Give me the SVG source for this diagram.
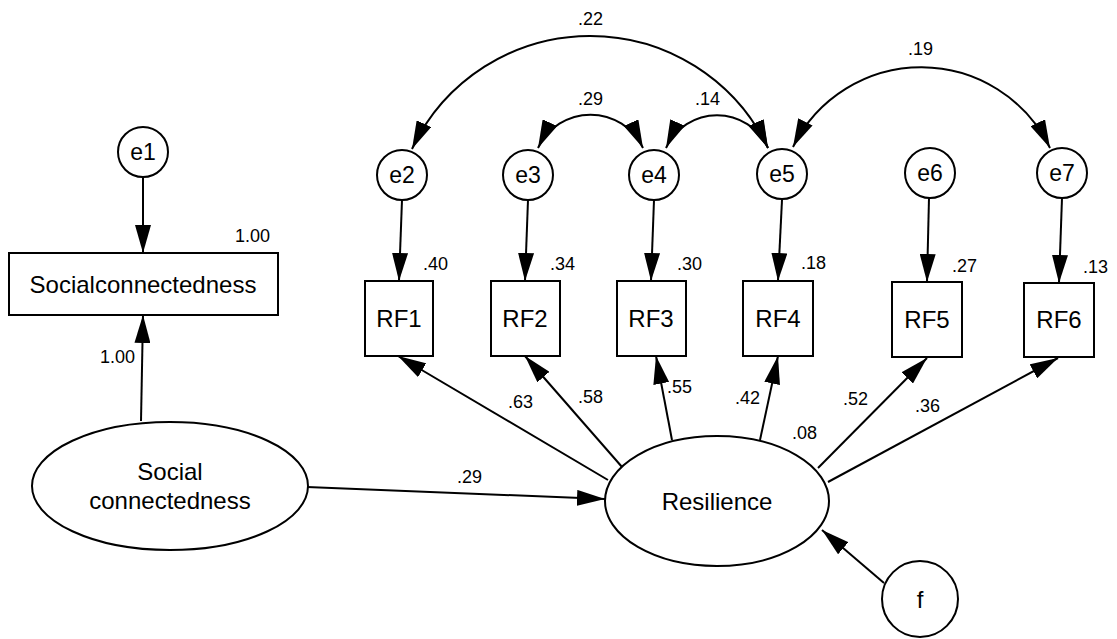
<svg xmlns="http://www.w3.org/2000/svg" width="1117" height="639" viewBox="0 0 1117 639">
<style>
.shape{fill:#fff;stroke:#000;stroke-width:2}
.ln{fill:none;stroke:#000;stroke-width:2}
.arr{marker-end:url(#ah)}
.dbl{marker-start:url(#ah);marker-end:url(#ah)}
.big{font-family:"Liberation Sans",Arial,sans-serif;font-size:24px;fill:#000;text-anchor:middle}
.num{font-family:"Liberation Sans",Arial,sans-serif;font-size:18px;fill:#000}
</style>
<defs>
<marker id="ah" markerUnits="userSpaceOnUse" markerWidth="28" markerHeight="16" refX="28" refY="8" orient="auto-start-reverse" viewBox="0 0 28 16">
<path d="M0,0 L28,8 L0,16 z" fill="#000"/>
</marker>
</defs>
<rect width="1117" height="639" fill="#fff"/>

<g id="connectors">
<line class="ln arr" x1="143" y1="178" x2="143" y2="253"/>
<line class="ln arr" x1="141" y1="421" x2="143" y2="315"/>
<line class="ln arr" x1="307" y1="487" x2="605" y2="499"/>
<line class="ln arr" x1="402" y1="200" x2="399" y2="281"/>
<line class="ln arr" x1="528" y1="200" x2="525" y2="281"/>
<line class="ln arr" x1="654" y1="200" x2="651" y2="281"/>
<line class="ln arr" x1="782" y1="200" x2="778" y2="281"/>
<line class="ln arr" x1="929" y1="198" x2="927" y2="282"/>
<line class="ln arr" x1="1062" y1="198" x2="1059" y2="283"/>
<line class="ln arr" x1="608" y1="480" x2="398" y2="356"/>
<line class="ln arr" x1="622" y1="467" x2="525" y2="356"/>
<line class="ln arr" x1="672" y1="440" x2="656" y2="356"/>
<line class="ln arr" x1="760" y1="440" x2="778" y2="356"/>
<line class="ln arr" x1="818" y1="468" x2="927" y2="358"/>
<line class="ln arr" x1="828" y1="482" x2="1058" y2="358"/>
<line class="ln arr" x1="884" y1="583" x2="822" y2="530"/>
<path class="ln dbl" d="M412 149 A197 197 0 0 1 768 148"/>
<path class="ln dbl" d="M538 148 A58 58 0 0 1 643 148"/>
<path class="ln dbl" d="M666 148 A56 56 0 0 1 768 148"/>
<path class="ln dbl" d="M793 147 A143 143 0 0 1 1050 148"/>
<text class="num" x="578" y="25">.22</text>
<text class="num" x="578" y="105">.29</text>
<text class="num" x="695" y="105">.14</text>
<text class="num" x="908" y="55">.19</text>
<text class="num" x="100" y="363">1.00</text>
<text class="num" x="457" y="483">.29</text>
<text class="num" x="508" y="408">.63</text>
<text class="num" x="578" y="403">.58</text>
<text class="num" x="667" y="393">.55</text>
<text class="num" x="735" y="404">.42</text>
<text class="num" x="843" y="405">.52</text>
<text class="num" x="915" y="412">.36</text>
</g>

<g id="e1"><circle class="shape" cx="143" cy="152" r="25"/><text class="big" x="143" y="160" style="font-size:23px">e1</text></g>
<g id="socialbox"><rect class="shape" x="9" y="253" width="269" height="62"/><text class="big" x="143" y="293">Socialconnectedness</text><text class="num" x="235" y="242">1.00</text></g>
<g id="social"><ellipse class="shape" cx="170" cy="486" rx="138" ry="64"/><text class="big" x="170" y="480">Social</text><text class="big" x="170" y="509">connectedness</text></g>
<g id="resilience"><ellipse class="shape" cx="717" cy="501" rx="112" ry="65"/><text class="big" x="717" y="510">Resilience</text><text class="num" x="792" y="439">.08</text></g>
<g id="f"><circle class="shape" cx="920" cy="599" r="38"/><text class="big" x="920" y="608">f</text></g>

<g id="e2"><circle class="shape" cx="402" cy="175" r="25"/><text class="big" x="402" y="183" style="font-size:23px">e2</text></g>
<g id="e3"><circle class="shape" cx="528" cy="175" r="25"/><text class="big" x="528" y="183" style="font-size:23px">e3</text></g>
<g id="e4"><circle class="shape" cx="654" cy="175" r="25"/><text class="big" x="654" y="183" style="font-size:23px">e4</text></g>
<g id="e5"><circle class="shape" cx="782" cy="174" r="25"/><text class="big" x="782" y="182" style="font-size:23px">e5</text></g>
<g id="e6"><circle class="shape" cx="930" cy="173" r="25"/><text class="big" x="930" y="181" style="font-size:23px">e6</text></g>
<g id="e7"><circle class="shape" cx="1062" cy="173" r="25"/><text class="big" x="1062" y="181" style="font-size:23px">e7</text></g>

<g id="RF1"><rect class="shape" x="365" y="281" width="68" height="75"/><text class="big" x="399" y="327">RF1</text><text class="num" x="423" y="270">.40</text></g>
<g id="RF2"><rect class="shape" x="491" y="281" width="69" height="75"/><text class="big" x="525" y="327">RF2</text><text class="num" x="550" y="270">.34</text></g>
<g id="RF3"><rect class="shape" x="617" y="281" width="69" height="75"/><text class="big" x="651" y="327">RF3</text><text class="num" x="677" y="270">.30</text></g>
<g id="RF4"><rect class="shape" x="743" y="281" width="70" height="75"/><text class="big" x="778" y="327">RF4</text><text class="num" x="801" y="269">.18</text></g>
<g id="RF5"><rect class="shape" x="892" y="282" width="70" height="75"/><text class="big" x="927" y="328">RF5</text><text class="num" x="952" y="272">.27</text></g>
<g id="RF6"><rect class="shape" x="1024" y="283" width="70" height="74"/><text class="big" x="1059" y="328">RF6</text><text class="num" x="1083" y="273">.13</text></g>
</svg>
